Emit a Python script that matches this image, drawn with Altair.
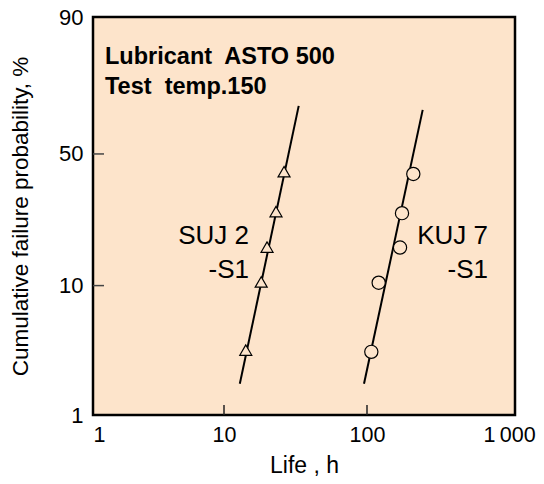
import math
import altair as alt
import pandas as pd

# ---- data ----
life_suj = [14.2, 18.2, 20.0, 23.1, 26.3]
prob_suj = [4.1, 10.5, 16.7, 26.2, 41.6]
life_kuj = [107.2, 120.7, 170.2, 175.7, 210.8]
prob_kuj = [4.0, 10.4, 16.6, 25.7, 40.6]

fit_life_suj = [12.9, 33.3]
fit_prob_suj = [2.55, 74.8]
fit_life_kuj = [95.3, 245.2]
fit_prob_kuj = [2.55, 72.8]

x_tick_values = [10, 100]
y_tick_values = [10, 50]
x_label_values = [1.213, 10, 100, 985]
x_labels = ["1", "10", "100", "1\u2009000"]
y_labels = ["1", "10", "50", "90"]
x_domain = [1.213, 1084]
y_domain_pct = [1.64, 99.27]

series_labels = ["SUJ 2", "-S1", "KUJ 7", "-S1"]
note_lines = ["Lubricant\u00a0 ASTO 500", "Test\u00a0 temp.150"]

BG = "#FDE4CB"
FONT = "Liberation Sans"


def weib(p):
    return math.log(-math.log(1 - p / 100.0))


y_domain = [weib(y_domain_pct[0]), weib(y_domain_pct[1])]
y_axis_values = [y_domain[0], weib(10), weib(50), y_domain[1]]

W_EXPR = "log(-log(1 - datum.prob / 100))"

x_enc = alt.X(
    "life:Q",
    scale=alt.Scale(type="log", domain=x_domain, nice=False),
    axis=alt.Axis(
        values=x_label_values,
        labelExpr=(
            "datum.value < 2 ? '%s' : datum.value < 20 ? '%s' : datum.value < 200 ? '%s' : '%s'"
            % tuple(x_labels)
        ),
        labelAlign={"condition": {"test": "datum.value < 2", "value": "left"}, "value": "center"},
        ticks=False,
        tickSize=0,
        domain=False,
        grid=False,
        labelFontSize=21.5,
        labelPadding=9,
        labelColor="black",
        labelFont=FONT,
        title="Life , h",
        titleFontSize=23,
        titleFontWeight="normal",
        titleFont=FONT,
        titleColor="black",
        titleX=211,
        titleY=57,
        titleBaseline="alphabetic",
        titleAnchor="middle",
    ),
)

y_enc = alt.Y(
    "w:Q",
    scale=alt.Scale(type="linear", domain=y_domain, nice=False, zero=False),
    axis=alt.Axis(
        values=y_axis_values,
        labelExpr=(
            "datum.value < -3.5 ? '%s' : datum.value < -1.5 ? '%s' : datum.value < 0.5 ? '%s' : '%s'"
            % tuple(y_labels)
        ),
        ticks=False,
        tickSize=0,
        domain=False,
        grid=False,
        labelFontSize=22,
        labelPadding=10,
        labelColor="black",
        labelFont=FONT,
        title="Cumulative failure probability, %",
        titleFontSize=22.5,
        titleFontWeight="normal",
        titleFont=FONT,
        titleColor="black",
        titleX=-73,
        titleY=199,
        titleAngle=-90,
        titleAlign="center",
        titleBaseline="middle",
    ),
)

pts_suj = pd.DataFrame({"life": life_suj, "prob": prob_suj})
pts_kuj = pd.DataFrame({"life": life_kuj, "prob": prob_kuj})
fit_suj = pd.DataFrame({"life": fit_life_suj, "prob": fit_prob_suj})
fit_kuj = pd.DataFrame({"life": fit_life_kuj, "prob": fit_prob_kuj})

line_suj = alt.Chart(fit_suj).transform_calculate(w=W_EXPR).mark_line(
    color="black", strokeWidth=2
).encode(x=x_enc, y=y_enc)
line_kuj = alt.Chart(fit_kuj).transform_calculate(w=W_EXPR).mark_line(
    color="black", strokeWidth=2
).encode(x=x_enc, y=y_enc)

tri = alt.Chart(pts_suj).transform_calculate(w=W_EXPR).mark_point(
    shape="triangle-up", fill=BG, fillOpacity=1, stroke="black", strokeWidth=1.2,
    size=144, opacity=1
).encode(x=x_enc, y=y_enc)
circ = alt.Chart(pts_kuj).transform_calculate(w=W_EXPR).mark_point(
    shape="circle", fill=BG, fillOpacity=1, stroke="black", strokeWidth=1.2,
    size=175, opacity=1
).encode(x=x_enc, y=y_enc)

# inward tick marks
yticks = alt.Chart(pd.DataFrame({"prob": y_tick_values})).transform_calculate(
    w=W_EXPR
).mark_rule(color="#444444", strokeWidth=1.5).encode(
    y=y_enc, x=alt.value(0), x2=alt.value(11)
)
xticks = alt.Chart(pd.DataFrame({"life": x_tick_values})).mark_rule(
    color="#222222", strokeWidth=1.5
).encode(x=x_enc, y=alt.value(398), y2=alt.value(388))


def label(txt, px, py, size, align="right", weight="normal"):
    return alt.Chart(pd.DataFrame({"t": [txt]})).mark_text(
        align=align, baseline="alphabetic", fontSize=size, font=FONT,
        fontWeight=weight, color="black"
    ).encode(x=alt.value(px), y=alt.value(py), text="t:N")


texts = [
    label(series_labels[0], 156, 227, 26),
    label(series_labels[1], 156, 261, 26),
    label(series_labels[2], 395, 227, 26),
    label(series_labels[3], 395, 261, 26),
    label(note_lines[0], 12, 47, 23.5, align="left", weight="bold"),
    label(note_lines[1], 12, 77, 23.5, align="left", weight="bold"),
]

chart = alt.layer(yticks, xticks, line_suj, line_kuj, tri, circ, *texts).properties(
    width=422,
    height=398,
    autosize=alt.AutoSizeParams(type="none"),
    padding={"left": 85, "top": 9, "right": 21, "bottom": 61},
    background="white",
).configure_view(
    fill=BG, stroke="black", strokeWidth=2.5
)

chart.save("out.html", embed_options={"renderer": "svg", "actions": False})
